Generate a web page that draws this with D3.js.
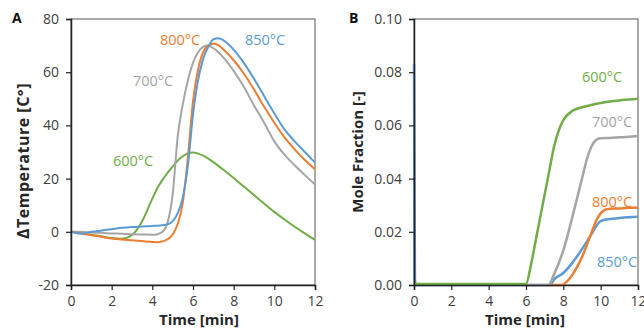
<!DOCTYPE html>
<html><head><meta charset="utf-8">
<script src="https://cdn.jsdelivr.net/npm/d3@7/dist/d3.min.js"></script>
<style>
html,body{margin:0;padding:0;background:#fff;}
svg{display:block;font-family:"Open Sans",sans-serif;}
</style></head>
<body>
<svg id="c" width="644" height="330"></svg>
<script>
// ---------- Panel A data: ΔTemperature [C°] vs Time [min] ----------
const tA    = [0,0.5,1,1.5,2,2.5,3,3.5,4,4.25,4.5,4.75,5,5.25,5.5,5.75,6,6.25,6.5,6.75,7,7.25,7.5,8,8.5,9,9.5,10,10.5,11,11.5,12];
const a600  = [0,-0.5,-1.1,-1.7,-2.3,-2.6,-1.2,4,12.5,16.5,19.5,22.2,24.5,26.8,28.4,29.5,29.8,29.4,28.6,27.5,26.2,24.8,23.3,20.2,17,13.8,10.6,7.5,4.6,1.9,-0.6,-3];
const a700  = [0,0,-0.3,-0.4,-0.6,-0.7,-0.9,-1,-1.1,-0.9,0,3.5,14,36,48,57,63.5,67.5,69.5,70,69,67.5,65.5,60.5,54.5,47.5,41,34,29,25,21.3,17.8];
const a800  = [0,-0.6,-1.3,-1.9,-2.5,-2.9,-3.2,-3.5,-3.8,-3.9,-3.6,-2.8,-1,3,11,28,49,61,67.5,70,70.7,70.2,68.5,64.5,59.5,53.5,47,41,35.5,31,27,23.5];
const a850  = [0,-0.7,0,0.5,1,1.5,1.8,2,2.2,2.3,2.5,2.8,4,7,13,25,44,57,65,69.5,72.3,72.8,72,68.5,63.5,57.5,51,44.5,38.5,34,30,26];

// ---------- Panel B data: Mole Fraction [-] vs Time [min] ----------
const tB600 = [0,6,6.25,6.5,6.75,7,7.25,7.5,7.75,8,8.5,9,9.5,10,10.5,11,11.5,12];
const b600  = [0.0004,0.0004,0.007,0.016,0.025,0.034,0.043,0.052,0.058,0.062,0.0655,0.0668,0.0677,0.0684,0.069,0.0694,0.0697,0.0700];
const tB700 = [6,7.2,7.5,8,8.5,9,9.25,9.5,9.75,10,10.5,11,11.5,12];
const b700  = [0,0,0.004,0.013,0.026,0.040,0.047,0.052,0.0545,0.0552,0.0553,0.0555,0.0557,0.056];
const tB800 = [7.2,7.9,8.5,9,9.5,9.75,10,10.25,10.5,11,11.5,12];
const b800  = [0,0,0.004,0.0105,0.0195,0.024,0.027,0.0283,0.0287,0.0288,0.029,0.029];
const tB850 = [0,0.05,0.1,7.3,7.5,8,8.5,9,9.5,9.75,10,10.5,11,11.5,12];
const b850  = [0.083,0.002,0,0,0.002,0.0045,0.0085,0.0135,0.019,0.022,0.024,0.0248,0.0252,0.0255,0.0257];

// ---------- ticks / labels ----------
const xTicks = [0,2,4,6,8,10,12];
const yTicksA = [-20,0,20,40,60,80];
const yTicksB = [0,0.02,0.04,0.06,0.08,0.10];
const seriesNames = ["600°C","700°C","800°C","850°C"];
const colors = {"600°C":"#70AD47","700°C":"#A5A5A5","800°C":"#ED7D31","850°C":"#5B9BD5"};

const svg = d3.select("#c");

function panel(opt){
  const x = d3.scaleLinear().domain([0,12]).range(opt.xr);
  const y = d3.scaleLinear().domain(opt.yd).range([285,19]);
  const g = svg.append("g");
  // frame
  g.append("rect").attr("x",opt.xr[0]).attr("y",19).attr("width",opt.xr[1]-opt.xr[0]).attr("height",266)
    .attr("fill","none").attr("stroke","#555").attr("stroke-width",1);
  const line = d3.line().x(d=>x(d[0])).y(d=>y(d[1])).curve(d3.curveMonotoneX);
  opt.series.forEach(s=>{
    g.append("path").attr("d",line(s.t.map((t,i)=>[t,s.v[i]])))
      .attr("fill","none").attr("stroke",colors[s.name]).attr("stroke-width",opt.sw)
      .attr("stroke-linejoin","round");
  });
  const ax = g.append("g").attr("transform","translate(0,285)")
    .call(d3.axisBottom(x).tickValues(xTicks).tickSize(5).tickPadding(6).tickFormat(d=>String(d)));
  const ay = g.append("g").attr("transform",`translate(${opt.xr[0]},0)`)
    .call(d3.axisLeft(y).tickValues(opt.yt).tickSize(5).tickPadding(7).tickFormat(opt.fmt));
  [ax,ay].forEach(a=>{
    a.select(".domain").attr("stroke","#222").attr("stroke-width",1.5);
    a.selectAll(".tick line").attr("stroke","#222").attr("stroke-width",1.2);
    a.selectAll("text").attr("font-family","Open Sans").attr("font-size",14).attr("fill","#404040");
  });
  // labels
  opt.labels.forEach(l=>{
    g.append("text").attr("x",l.x).attr("y",l.y).text(l.name)
      .attr("font-size",14.5).attr("fill",colors[l.name]);
  });
  // titles
  g.append("text").attr("x",opt.xt).attr("y",325).attr("text-anchor","middle")
    .attr("font-weight","bold").attr("font-size",15).attr("fill","#262626").text("Time [min]");
  g.append("text").attr("transform",`translate(${opt.yx},${opt.yy}) rotate(-90)`).attr("text-anchor","middle")
    .attr("font-weight","bold").attr("font-size",opt.yfs).attr("letter-spacing",opt.yls)
    .attr("fill","#262626").text(opt.ytitle);
  g.append("text").attr("x",opt.px).attr("y",23).attr("font-weight","bold").attr("font-size",14)
    .attr("fill","#111").text(opt.letter);
}

panel({
  xr:[71,315], yd:[-20,80], yt:yTicksA, fmt:d=>String(d), sw:2,
  series:[
    {name:"600°C",t:tA,v:a600},
    {name:"700°C",t:tA,v:a700},
    {name:"800°C",t:tA,v:a800},
    {name:"850°C",t:tA,v:a850}
  ],
  labels:[
    {name:"800°C",x:160,y:45},
    {name:"850°C",x:245,y:45},
    {name:"700°C",x:133,y:86},
    {name:"600°C",x:113,y:166}
  ],
  xt:199, yx:29, yy:161, yfs:16, yls:0.5, ytitle:"ΔTemperature [C°]", px:12, letter:"A"
});

panel({
  xr:[414,638], yd:[0,0.10], yt:yTicksB, fmt:d3.format(".2f"), sw:2.5,
  series:[
    {name:"850°C",t:tB850,v:b850},
    {name:"800°C",t:tB800,v:b800},
    {name:"700°C",t:tB700,v:b700},
    {name:"600°C",t:tB600,v:b600}
  ],
  labels:[
    {name:"600°C",x:582,y:82},
    {name:"700°C",x:592,y:127},
    {name:"800°C",x:592,y:207},
    {name:"850°C",x:597,y:267}
  ],
  xt:525, yx:363, yy:152, yfs:15, yls:0, ytitle:"Mole Fraction [-]", px:349, letter:"B"
});
</script>
</body></html>
